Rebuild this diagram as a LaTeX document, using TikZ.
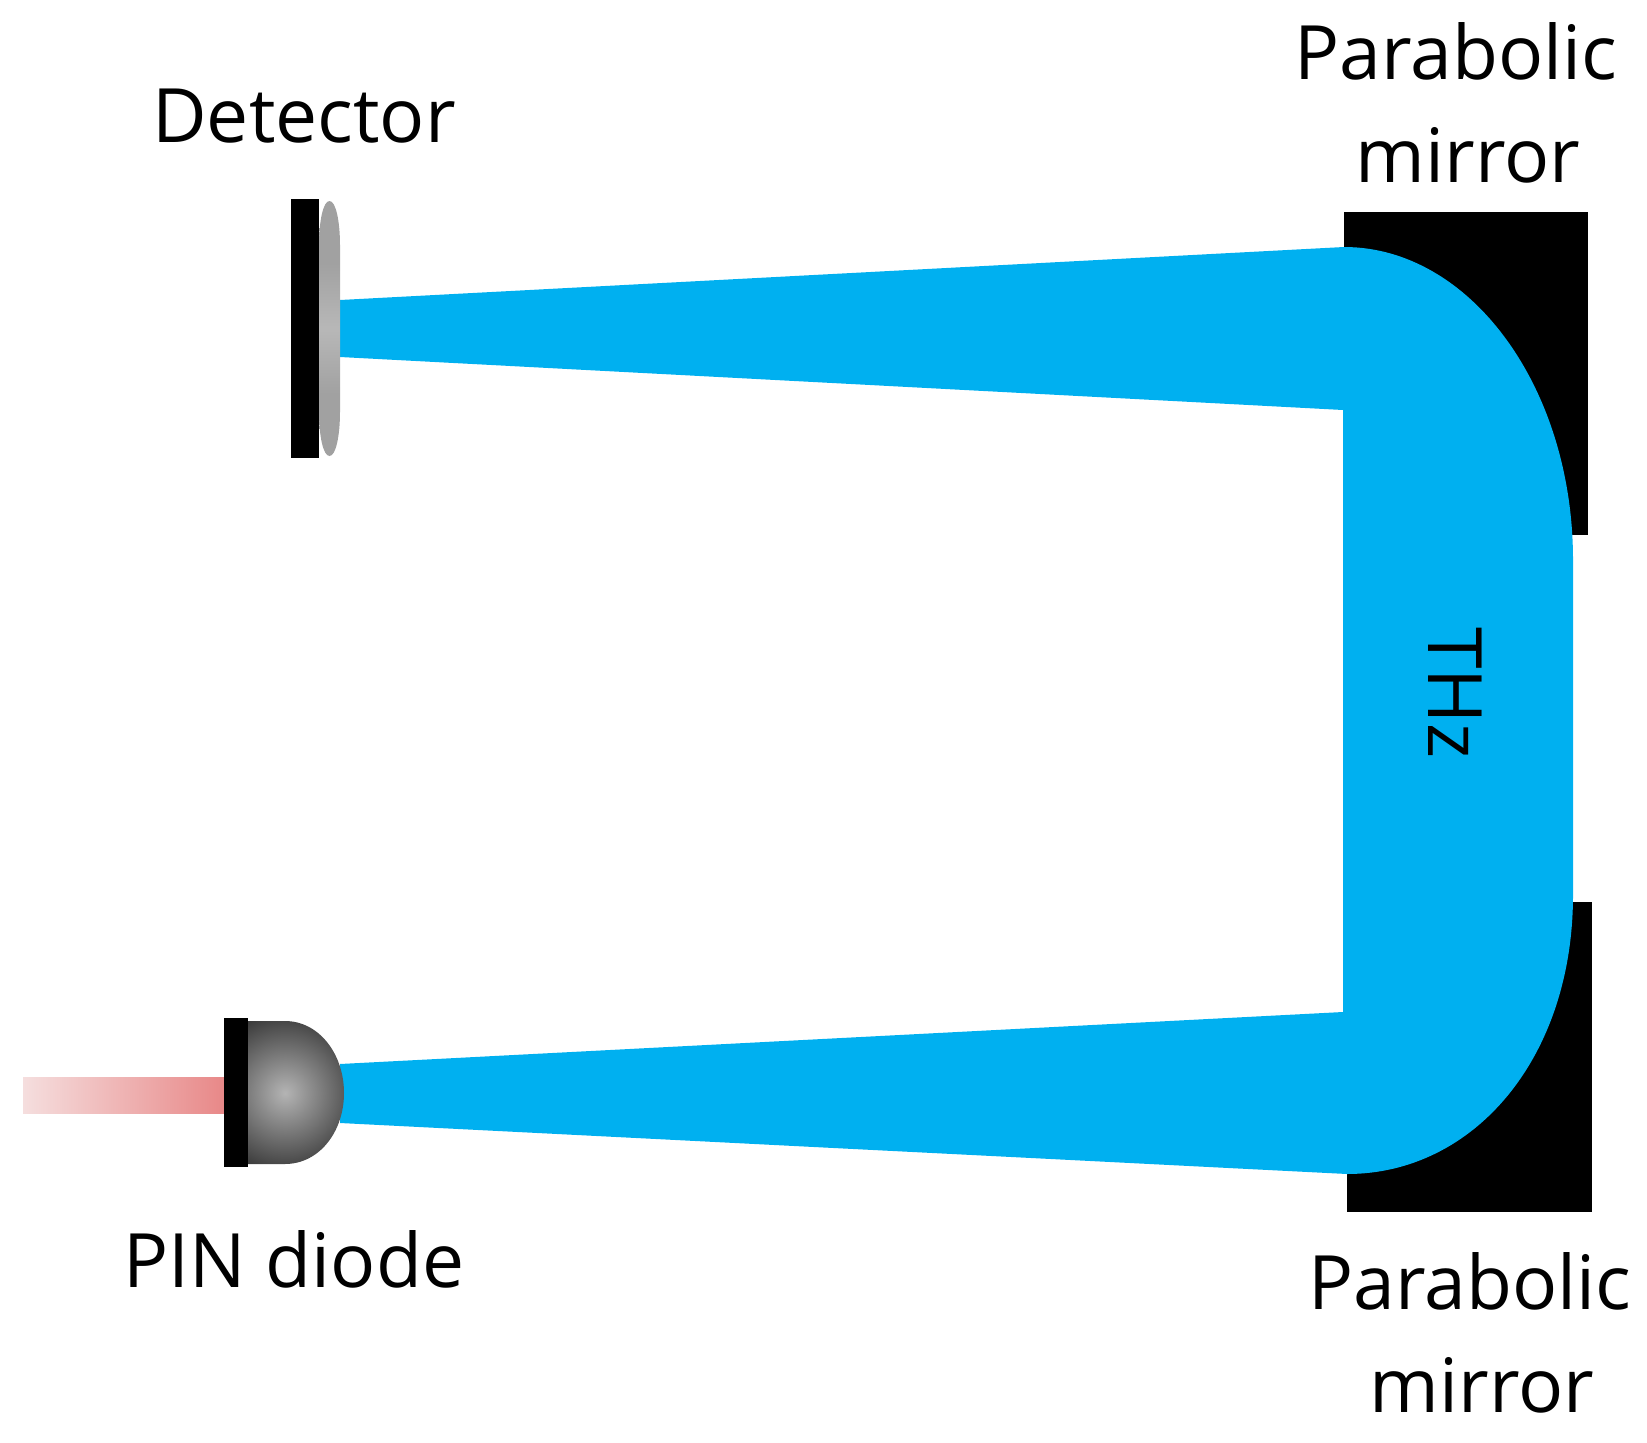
\documentclass[tikz,border=0pt]{standalone}
\usepackage{fontspec}
\setmainfont{Open Sans}
\definecolor{thzblue}{HTML}{00B0F0}
\definecolor{laserlight}{HTML}{F5DEDE}
\definecolor{laserdark}{HTML}{E88888}
\definecolor{domelight}{HTML}{B4B4B4}
\definecolor{domedark}{HTML}{383838}
\pgfdeclareverticalshading{detshade}{100bp}{color(0bp)=(black!37); color(37bp)=(black!37); color(50bp)=(black!28); color(63bp)=(black!37); color(100bp)=(black!37)}
\tikzset{
  plate/.style={fill=black},
  lab/.style={font=\fontsize{75}{75}\selectfont, anchor=base, inner sep=0pt}
}
\begin{document}
\begin{tikzpicture}[x=1pt, y=-1pt]
    \useasboundingbox (0, 0) rectangle (1647, 1443);
    \shade[left color=laserlight, right color=laserdark] (23, 1077) rectangle (224, 1113);
    % mirrors
    \fill[plate] (1344, 212) rectangle (1588, 535);
    \fill[plate] (1347, 902) rectangle (1592, 1212);
    % beam
    \fill[thzblue] (340, 300) -- (1344, 247)
      .. controls (1470, 247) and (1573, 387) .. (1573, 560)
      -- (1573, 895)
      .. controls (1573, 1058) and (1474, 1174) .. (1347, 1174)
      -- (340, 1123) -- (340, 1064) -- (1343, 1012) -- (1343, 410) -- (340, 357) -- cycle;
    % diode
    \begin{scope}
      \clip (247, 1021) -- (285, 1021)
        .. controls (319, 1021) and (344, 1054) .. (344, 1093)
        .. controls (344, 1132) and (319, 1164) .. (285, 1164) -- (247, 1164) -- cycle;
      \shade[inner color=domelight, outer color=domedark] (285, 1093) circle (82);
    \end{scope}
    \fill[plate] (224, 1018) rectangle (248, 1167);
    % detector
    \shade[shading=detshade] (329.5, 201)
      .. controls (336, 201) and (340, 222) .. (340, 245) -- (340, 412)
      .. controls (340, 435) and (336, 456) .. (329.5, 456)
      .. controls (323, 456) and (319, 435) .. (319, 412) -- (319, 245)
      .. controls (319, 222) and (323, 201) .. (329.5, 201) -- cycle;
    \fill[plate] (291, 199) rectangle (319, 458);
    % labels
    \node[lab] (det) at (304, 142) {Detector};
    \node[lab] (pin) at (294, 1287) {PIN diode};
    \node[lab] (topa) at (1456, 79) {Parabolic};
    \node[lab] (topb) at (1468, 182) {mirror};
    \node[lab] (bota) at (1470, 1309) {Parabolic};
    \node[lab] (botb) at (1482, 1412) {mirror};
    \node[lab, rotate=-90] (thz) at (1428, 693) {THz};
\end{tikzpicture}
\end{document}
